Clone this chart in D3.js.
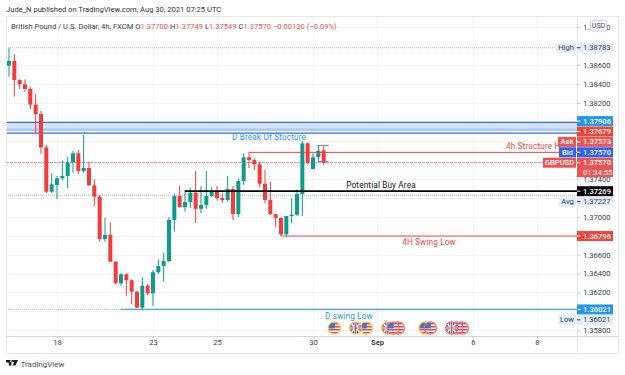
<!DOCTYPE html>
<html>
<head>
<meta charset="utf-8">
<script src="https://cdn.jsdelivr.net/npm/d3@7/dist/d3.min.js"></script>
<style>
  html, body { margin: 0; padding: 0; background: #fff; }
  svg { display: block; }
  text { font-family: "Roboto", "Liberation Sans", sans-serif; }
</style>
</head>
<body>
<div id="chart"></div>
<script>
// GBP/USD four-hour candles, oldest first
const opens = [1.38594,1.38643,1.38443,1.38397,1.38348,1.38182,1.38084,1.37732,1.37264,1.37335,
  1.37405,1.37430,1.37574,1.37669,1.37482,1.37514,1.37331,1.37211,1.36765,1.36807,
  1.36525,1.36297,1.36392,1.36329,1.36208,1.36040,1.36272,1.36192,1.36413,1.36480,
  1.36532,1.36965,1.37218,1.37102,1.37155,1.37253,1.37084,1.37123,1.37218,1.37271,
  1.37197,1.37176,1.37292,1.37028,1.37377,1.37627,1.37598,1.37553,1.37348,1.37176,
  1.37028,1.36986,1.36814,1.37007,1.37021,1.37240,1.37775,1.37503,1.37627,1.37700];
const highs = [1.38783,1.38717,1.38450,1.38450,1.38369,1.38295,1.38116,1.37757,1.37458,1.37430,
  1.37588,1.37633,1.37693,1.37704,1.37862,1.37580,1.37395,1.37229,1.36989,1.36941,
  1.36532,1.36403,1.36403,1.36339,1.36219,1.36360,1.36290,1.36437,1.36550,1.36620,
  1.36994,1.37247,1.37324,1.37282,1.37306,1.37482,1.37324,1.37482,1.37317,1.37324,
  1.37247,1.37430,1.37324,1.37395,1.37669,1.37633,1.37616,1.37580,1.37493,1.37369,
  1.37028,1.36994,1.37007,1.37194,1.37289,1.37799,1.37785,1.37669,1.37757,1.37749];
const lows = [1.38478,1.38266,1.38345,1.38319,1.38137,1.37870,1.37662,1.37250,1.37250,1.37187,
  1.37387,1.37300,1.37464,1.37447,1.37464,1.37324,1.37113,1.36736,1.36736,1.36519,
  1.36290,1.36272,1.36166,1.36079,1.36036,1.36021,1.36174,1.36058,1.36395,1.36314,
  1.36519,1.36842,1.37095,1.37053,1.37092,1.36934,1.37036,1.37084,1.37205,1.37169,
  1.37148,1.37158,1.36965,1.36994,1.37335,1.37514,1.37493,1.37310,1.37141,1.37018,
  1.36888,1.36796,1.36796,1.36930,1.37007,1.37007,1.37556,1.37500,1.37570,1.37549];
const closes = [1.38643,1.38443,1.38397,1.38348,1.38182,1.38084,1.37732,1.37264,1.37342,1.37405,
  1.37430,1.37574,1.37669,1.37482,1.37514,1.37331,1.37211,1.36765,1.36807,1.36525,
  1.36297,1.36392,1.36329,1.36208,1.36040,1.36272,1.36192,1.36413,1.36480,1.36532,
  1.36965,1.37218,1.37102,1.37155,1.37253,1.37084,1.37123,1.37218,1.37271,1.37197,
  1.37176,1.37292,1.37028,1.37377,1.37627,1.37598,1.37553,1.37348,1.37176,1.37028,
  1.36986,1.36814,1.37007,1.37021,1.37240,1.37775,1.37570,1.37627,1.37697,1.37570];

// Price axis
const priceLabels = [1.39,1.386,1.384,1.382,1.374,1.37,1.366,1.364,1.362,1.358];
const priceGrid = [1.39,1.386,1.384,1.382,1.378,1.374,1.372,1.37,1.368,1.366,1.364,1.362,1.36,1.358];

// Time axis: bar index of each day mark
const dayBars = [9,27,39,57,69,87,99];
const dayNames = ["18","23","25","30","Sep","6","8"];

// Drawn levels
const zoneTop = 1.37995, zoneEdge = 1.37906, zoneShade = 1.37930, zoneFloor = 1.37883;
const structureHigh = 1.37679, buyArea = 1.37269, swingLow4h = 1.36796, swingLowD = 1.36021;
const dayHigh = 1.38783, dayLow = 1.36021, dayAvg = 1.37227, lastPrice = 1.37570, askPrice = 1.37573;
const bracketLevels = [1.37753, 1.37580];

// Economic calendar markers under the candles
const eventBars = [61,67,65,71,73,72,78,79,85,84,83];
const eventFlags = ["us","us","uk","uk","us","us","us","us","us","us","uk"];
const eventRings = ["y","y","y","y","r","r","y","r","r","r","r"];

const width = 625, height = 375;
const plot = { left: 6, right: 577, top: 16, bottom: 336, outerRight: 618, outerBottom: 353 };

const x = d3.scaleLinear().domain([0, 59]).range([9, 9 + 59 * 5.3333]);
const y = d3.scaleLinear().domain([1.358, 1.386]).range([330.4, 65.1]);

const RED = "#f23c3c", TEAL = "#0f9a8a", BLUE = "#2196f3", ROYAL = "#2f6bea", INK = "#3a3d47";

const svg = d3.select("#chart").append("svg").attr("width", width).attr("height", height);

svg.append("clipPath").attr("id", "pane").append("rect")
  .attr("x", plot.left).attr("y", plot.top)
  .attr("width", plot.right - plot.left).attr("height", plot.bottom - plot.top);

// Grid
const grid = svg.append("g").attr("stroke", "#f0f3fa").attr("stroke-width", 1);
grid.selectAll(".h").data(priceGrid).join("line")
  .attr("x1", plot.left).attr("x2", plot.right)
  .attr("y1", d => Math.round(y(d)) + .5).attr("y2", d => Math.round(y(d)) + .5);
grid.selectAll(".v").data(dayBars).join("line")
  .attr("x1", d => Math.round(x(d)) + .5).attr("x2", d => Math.round(x(d)) + .5)
  .attr("y1", plot.top).attr("y2", plot.bottom);

const pane = svg.append("g").attr("clip-path", "url(#pane)");

// Supply zone
pane.append("rect").attr("x", plot.left).attr("width", plot.right - plot.left)
  .attr("y", y(zoneTop)).attr("height", y(zoneEdge) - y(zoneTop)).attr("fill", "#d2e1fe");
pane.append("rect").attr("x", plot.left).attr("width", plot.right - plot.left)
  .attr("y", y(zoneShade)).attr("height", y(zoneEdge) - y(zoneShade)).attr("fill", "#a9c7f9");
pane.selectAll(".zone").data([zoneTop, zoneFloor]).join("line")
  .attr("x1", plot.left).attr("x2", plot.right)
  .attr("y1", d => y(d)).attr("y2", d => y(d))
  .attr("stroke", ROYAL).attr("stroke-width", 1.2);

// Statistic levels
const dotted = (level, color, to = plot.right) => pane.append("line")
  .attr("x1", plot.left).attr("x2", to).attr("y1", y(level)).attr("y2", y(level))
  .attr("stroke", color).attr("stroke-width", 1).attr("stroke-dasharray", "1 1");
dotted(dayHigh, "#b2b5be");
dotted(dayAvg, "#b2b5be");
dotted(lastPrice, "#e8707a");
pane.append("line").attr("x1", plot.left + 1).attr("x2", plot.right)
  .attr("y1", y(lastPrice)).attr("y2", y(lastPrice))
  .attr("stroke", "#8a98ea").attr("stroke-width", 1).attr("stroke-dasharray", "1 3");
dotted(dayLow, "#b2b5be", x(21));

// Candles
const bars = d3.range(opens.length);
const candle = pane.selectAll(".bar").data(bars).join("g")
  .attr("fill", i => closes[i] >= opens[i] ? TEAL : RED)
  .attr("stroke", i => closes[i] >= opens[i] ? TEAL : RED);
candle.append("line").attr("x1", i => x(i)).attr("x2", i => x(i))
  .attr("y1", i => y(highs[i])).attr("y2", i => y(lows[i])).attr("stroke-width", 1);
candle.append("rect").attr("stroke", "none")
  .attr("x", i => x(i) - 2).attr("width", 4)
  .attr("y", i => y(Math.max(opens[i], closes[i])))
  .attr("height", i => Math.max(1.2, Math.abs(y(opens[i]) - y(closes[i]))));

// Bracket around the latest candle range
pane.selectAll(".bracket").data(bracketLevels).join("line")
  .attr("x1", x(58)).attr("x2", x(59) + 5)
  .attr("y1", d => y(d)).attr("y2", d => y(d))
  .attr("stroke", "#787b86").attr("stroke-width", 1);

// Trend lines
const level = (value, fromBar, color, w) => pane.append("line")
  .attr("x1", x(fromBar)).attr("x2", plot.right)
  .attr("y1", y(value)).attr("y2", y(value))
  .attr("stroke", color).attr("stroke-width", w);
level(structureHigh, 45, "#f0473f", 1);
level(buyArea, 33, "#000", 1.8);
level(swingLow4h, 51, "#f0473f", 1);
level(swingLowD, 21, "#4a9fe3", 1.2);
pane.append("line").attr("x1", x(45)).attr("x2", x(45))
  .attr("y1", y(structureHigh)).attr("y2", y(opens[45])).attr("stroke", "#f0473f");
pane.append("line").attr("x1", x(51)).attr("x2", x(51))
  .attr("y1", y(swingLow4h)).attr("y2", y(closes[51])).attr("stroke", "#f0473f");

// Trend line captions
const caption = (t, px, py, color, anchor = "start") => pane.append("text")
  .attr("x", px).attr("y", py).attr("text-anchor", anchor).attr("dominant-baseline", "central")
  .attr("font-size", 8.2).attr("fill", color).attr("letter-spacing", .15).text(t);
caption("D Break Of Stucture", 269, 136.5, BLUE, "middle");
caption("4h Structure H", 506, 146, "#f0473f");
caption("Potential Buy Area", 381, 185, "#111", "middle");
caption("4H Swing Low", 429, 242, "#f0473f", "middle");
caption("D swing Low", 349, 316, BLUE, "middle");

// Calendar flags
const flags = svg.append("g");
eventBars.forEach((bar, k) => {
  const g = flags.append("g").attr("transform", `translate(${x(bar)},328)`);
  const id = "flag" + k;
  g.append("clipPath").attr("id", id).append("circle").attr("r", 5.8);
  const inner = g.append("g").attr("clip-path", `url(#${id})`);
  inner.append("rect").attr("x", -6).attr("y", -6).attr("width", 12).attr("height", 12).attr("fill", "#fff");
  if (eventFlags[k] === "us") {
    d3.range(-5, 6, 3).forEach(s => inner.append("rect")
      .attr("x", -6).attr("y", s).attr("width", 12).attr("height", 1.5).attr("fill", "#e0454b"));
    inner.append("rect").attr("x", -6).attr("y", -6).attr("width", 6.5).attr("height", 6.5).attr("fill", "#4a72c4");
  } else {
    inner.append("rect").attr("x", -6).attr("y", -6).attr("width", 12).attr("height", 12).attr("fill", "#4568b8");
    inner.append("path").attr("d", "M-6 -6L6 6M-6 6L6 -6").attr("stroke", "#fff").attr("stroke-width", 1.4);
    inner.append("path").attr("d", "M0 -6V6M-6 0H6").attr("stroke", "#fff").attr("stroke-width", 2.4);
    inner.append("path").attr("d", "M0 -6V6M-6 0H6").attr("stroke", "#e0454b").attr("stroke-width", 1.2);
  }
  g.append("circle").attr("r", 6.2).attr("fill", "none").attr("stroke-width", 1.1)
    .attr("stroke", eventRings[k] === "y" ? "#f5c23e" : "#ef6a6a");
});

// Frame
svg.append("rect").attr("x", plot.left + .5).attr("y", plot.top + .5)
  .attr("width", plot.outerRight - plot.left).attr("height", plot.outerBottom - plot.top)
  .attr("fill", "none").attr("stroke", "#e4e7ef");
svg.append("line").attr("x1", plot.right + .5).attr("x2", plot.right + .5)
  .attr("y1", plot.top).attr("y2", plot.outerBottom).attr("stroke", "#e0e3eb");
svg.append("line").attr("x1", plot.left).attr("x2", plot.outerRight)
  .attr("y1", plot.bottom + .5).attr("y2", plot.bottom + .5).attr("stroke", "#d5d8e0");

// Price axis
const yAxis = svg.append("g").attr("transform", `translate(${plot.right},0)`)
  .call(d3.axisRight(y).tickValues(priceLabels).tickFormat(d3.format(".5f")).tickSize(3.5).tickPadding(2.5));
yAxis.select(".domain").remove();
yAxis.selectAll("line").attr("stroke", "#c8ccd6");
yAxis.selectAll("text").attr("font-size", 7.6).attr("fill", INK);

// Time axis
const xAxis = svg.append("g").attr("transform", `translate(0,${plot.bottom})`)
  .call(d3.axisBottom(x).tickValues(dayBars).tickFormat((d, i) => dayNames[i]).tickSize(2).tickPadding(2));
xAxis.select(".domain").remove();
xAxis.selectAll("line").attr("stroke", "#c8ccd6");
xAxis.selectAll("text").attr("font-size", 7.6).attr("fill", INK)
  .attr("font-weight", d => d === 69 ? 700 : 400);

// Price tags: overlapping ones are pushed apart, keeping the first of each run in place
const tagStep = 10.4;
const tagRuns = [
  { dir: -1, tags: [
    { value: lastPrice, name: "GBPUSD", fill: "#ef5350", color: "#fff", countdown: "01:34:55" },
    { value: lastPrice, name: "Bid", fill: "#2962ff", color: "#fff" },
    { value: askPrice, name: "Ask", fill: "#ef5350", color: "#fff" },
    { value: structureHigh, fill: "#f44336", color: "#fff" },
    { value: zoneEdge, fill: BLUE, color: "#fff" }] },
  { dir: 1, tags: [
    { value: buyArea, fill: "#000", color: "#fff" },
    { value: dayAvg, name: "Avg", fill: "#e3effd", color: INK }] },
  { dir: 1, tags: [
    { value: swingLowD, fill: BLUE, color: "#fff" },
    { value: dayLow, name: "Low", fill: "#e3effd", color: INK }] },
  { dir: 1, tags: [{ value: swingLow4h, fill: "#f44336", color: "#fff" }] },
  { dir: 1, tags: [{ value: dayHigh, name: "High", fill: "#e3effd", color: INK }] }
];
const tagLayer = svg.append("g");
tagRuns.forEach(run => {
  let prev = null;
  run.tags.forEach(tag => {
    let cy = y(tag.value);
    if (prev !== null) cy = run.dir < 0 ? Math.min(cy, prev - tagStep) : Math.max(cy, prev + tagStep);
    prev = cy;
    const tall = tag.countdown ? 9.4 : 0;
    tagLayer.append("rect").attr("x", plot.right).attr("y", cy - 5).attr("width", 36)
      .attr("height", 10 + tall).attr("fill", tag.fill);
    tagLayer.append("line").attr("x1", plot.right).attr("x2", plot.right + 3.5)
      .attr("y1", cy).attr("y2", cy).attr("stroke", tag.color);
    tagLayer.append("text").attr("x", plot.right + 6).attr("y", cy).attr("dominant-baseline", "central")
      .attr("font-size", 7.6).attr("font-weight", tag.color === "#fff" ? 500 : 400)
      .attr("fill", tag.color).text(d3.format(".5f")(tag.value));
    if (tag.countdown) {
      tagLayer.append("text").attr("x", plot.right + 6).attr("y", cy + 9.4).attr("dominant-baseline", "central")
        .attr("font-size", 7.6).attr("fill", "#fff").text(tag.countdown);
    }
    if (tag.name) {
      const w = { GBPUSD: 33, Bid: 17, Ask: 18, Avg: 17, Low: 18, High: 20 }[tag.name];
      tagLayer.append("rect").attr("x", plot.right - w - 1).attr("y", cy - 5).attr("width", w)
        .attr("height", 10).attr("fill", tag.fill);
      tagLayer.append("text").attr("x", plot.right - 1 - w / 2).attr("y", cy).attr("text-anchor", "middle")
        .attr("dominant-baseline", "central").attr("font-size", 7.6).attr("font-weight", tag.color === "#fff" ? 500 : 400)
        .attr("fill", tag.color).text(tag.name);
    }
  });
});

// Currency badge
svg.append("rect").attr("x", 590.5).attr("y", 20.5).attr("width", 16).attr("height", 10.5).attr("rx", 2.5)
  .attr("fill", "#fff").attr("stroke", "#cfd2da");
svg.append("text").attr("x", 598.5).attr("y", 26).attr("text-anchor", "middle").attr("dominant-baseline", "central")
  .attr("font-size", 7).attr("fill", INK).text("USD");

// Publication line
svg.append("text").attr("x", 6).attr("y", 9).attr("dominant-baseline", "central")
  .attr("font-size", 7.6).attr("fill", "#333").text("Jude_N published on TradingView.com, Aug 30, 2021 07:25 UTC");

// Symbol legend with the latest OHLC values
const last = opens.length - 1;
const legend = svg.append("text").attr("x", 11).attr("y", 26).attr("dominant-baseline", "central")
  .attr("font-size", 7.6).attr("fill", INK);
legend.append("tspan").text("British Pound / U.S. Dollar, 4h, FXCM  ");
const fmt = d3.format(".5f");
[["O", opens[last]], ["H", highs[last]], ["L", lows[last]], ["C", closes[last]]].forEach(([k, v]) => {
  legend.append("tspan").text(k);
  legend.append("tspan").attr("fill", "#ef5350").text(fmt(v) + " ");
});
legend.append("tspan").attr("fill", "#ef5350").text("\u22120.00130 (\u22120.09%)");

// Brand mark and name
svg.append("path").attr("fill", "#131722")
  .attr("d", "M6 360h5.4v5.6H8.8v-3.1H6z M12.2 360h5.8l-2.6 5.6h-2.7l1.6-3.4h-2.1z M11.3 360a1.2 1.2 0 1 0 .01 0z");
svg.append("text").attr("x", 20.5).attr("y", 364).attr("dominant-baseline", "central")
  .attr("font-size", 8).attr("fill", "#4a4e59").text("TradingView");
</script>
</body>
</html>
